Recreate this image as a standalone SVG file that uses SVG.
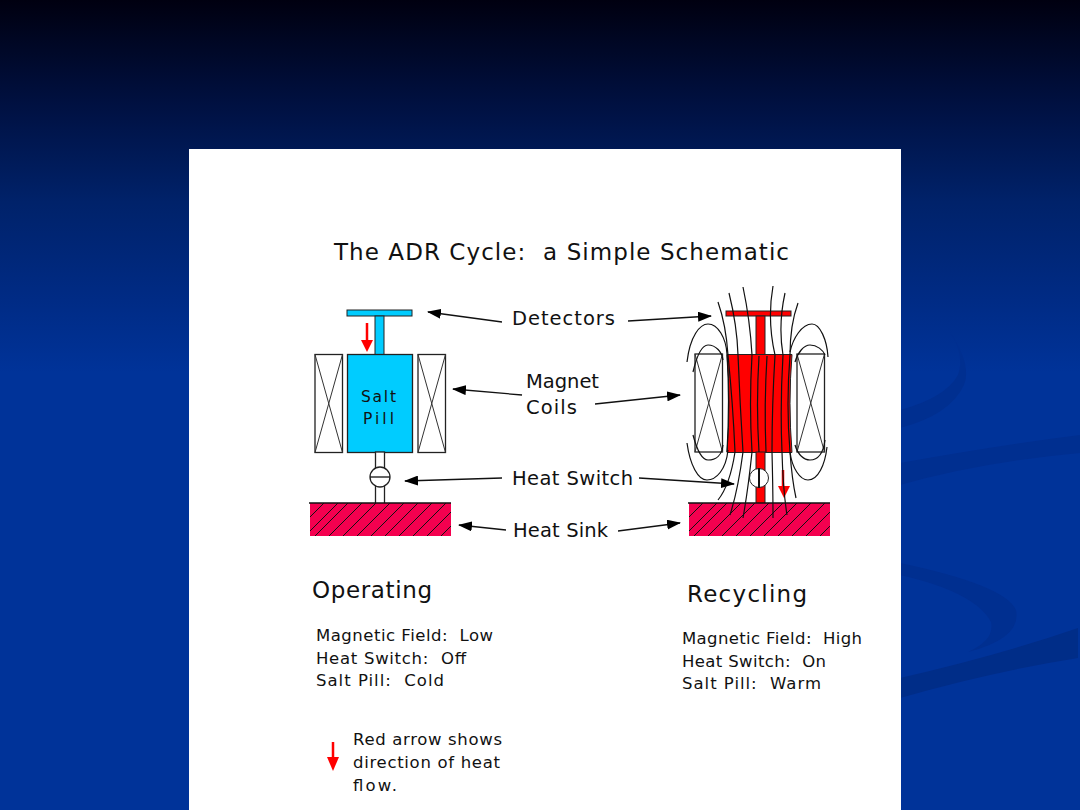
<svg xmlns="http://www.w3.org/2000/svg" width="1080" height="810" viewBox="0 0 1080 810">
<style>
text{font-family:"DejaVu Sans","Liberation Sans",sans-serif;fill:#111;white-space:pre}
.t14{font-size:16.500px}
.t16{font-size:19.500px}
.t18{font-size:23px}
.t13{font-size:15.500px}
.l{fill:none;stroke:#111;stroke-width:1.200}
.ln{stroke:#111;stroke-width:1.300;fill:none}
.box{fill:#fff;stroke:#222;stroke-width:1.300}
.x{stroke:#333;stroke-width:1;fill:none}
.sink{fill:#f4004f;stroke:none}
.h{stroke:#111;stroke-width:1;fill:none}
</style>
<defs>
<linearGradient id="bg" x1="0" y1="0" x2="0" y2="1">
<stop offset="0" stop-color="#000010"/>
<stop offset=".125" stop-color="#001040"/>
<stop offset=".25" stop-color="#00226a"/>
<stop offset=".37" stop-color="#002b85"/>
<stop offset=".46" stop-color="#003399"/>
<stop offset="1" stop-color="#003399"/>
</linearGradient>
<marker id="ah" markerWidth="14" markerHeight="10" refX="13" refY="5" orient="auto" markerUnits="userSpaceOnUse"><path d="M0 0L14 5L0 10Z" fill="#000"/></marker>
</defs>
<rect width="1080" height="810" fill="url(#bg)"/>
<!-- background swooshes on the right margin -->
<g fill="#002f90">
<path d="M950 332Q972 365 964 385Q950 415 900 428L900 410Q945 398 958 375Q965 355 950 332Z"/>
<path d="M900 463Q1000 445 1080 435L1080 453Q980 462 900 485Z"/>
<path d="M900 563Q1005 585 1016 610Q1022 638 968 652Q995 640 991 622Q975 592 900 575Z"/>
<path d="M900 678Q1000 655 1078 628L1078 658Q990 672 900 698Z" fill="#002d88"/>
</g>
<rect x="189" y="149" width="712" height="661" fill="#fff"/>
<text class="t18" x="334" y="260" textLength="455">The ADR Cycle:  a Simple Schematic</text>

<g id="operating-stage">
<rect x="347" y="310" width="65" height="6" fill="#00ccff" stroke="#222"/>
<rect x="375" y="316" width="9" height="40" fill="#00ccff" stroke="#222"/>
<rect x="347.500" y="354.500" width="65" height="98" fill="#00ccff" stroke="#222" stroke-width="1.300"/>
<text class="t13" x="361" y="402" textLength="35">Salt</text>
<text class="t13" x="363" y="424" textLength="31">Pill</text>
<rect class="box" x="315" y="354.500" width="27.500" height="98"/>
<path class="x" d="M315 354.500L342.500 452.500M342.500 354.500L315 452.500"/>
<rect class="box" x="418" y="354.500" width="27.500" height="98"/>
<path class="x" d="M418 354.500L445.500 452.500M445.500 354.500L418 452.500"/>
<rect class="box" x="375.500" y="452" width="9" height="52"/>
<circle class="box" cx="380" cy="477" r="10"/>
<path class="ln" d="M370 477H390"/>
<path d="M367 323V345" stroke="#f00" stroke-width="2.500"/>
<path d="M361 340H373L367 352Z" fill="#f00"/>
<rect class="sink" x="310" y="503" width="141" height="33"/>
<path class="h" d="M310 517L324 503M310 531L338 503M315 536L348 503M329 536L362 503M343 536L376 503M357 536L390 503M371 536L404 503M385 536L418 503M399 536L432 503M413 536L446 503M427 536L451 512M441 536L451 526"/>
<path class="ln" d="M309 503H451"/>
</g>

<g id="recycling-stage">
<rect x="726" y="311" width="65" height="5" fill="#f00" stroke="#222"/>
<rect x="756" y="316" width="9" height="40" fill="#f00" stroke="#222"/>
<path d="M727 354.500H792Q788 403 792 452.500H727Q731 403 727 354.500Z" fill="#f00" stroke="#222"/>
<rect class="box" x="695" y="354" width="27.500" height="98"/>
<path class="x" d="M695 354L722.500 452M722.500 354L695 452"/>
<rect class="box" x="797" y="354" width="27.500" height="98"/>
<path class="x" d="M797 354L824.500 452M824.500 354L797 452"/>
<rect x="756" y="452" width="9" height="52" fill="#f00" stroke="#222"/>
<circle cx="759" cy="478" r="9.500" fill="#fff" stroke="#222"/>
<path d="M759 468V488" stroke="#111" stroke-width="2"/>
<path d="M783 470V490" stroke="#f00" stroke-width="2.500"/>
<path d="M778 486H790L784 498Z" fill="#f00"/>
<rect class="sink" x="689" y="503" width="141" height="33"/>
<path class="h" d="M689 517L703 503M689 531L717 503M694 536L727 503M708 536L741 503M722 536L755 503M736 536L769 503M750 536L783 503M764 536L797 503M778 536L811 503M792 536L825 503M806 536L830 512M820 536L830 526"/>
<path class="ln" d="M688 503H830"/>
<!-- field lines through the pill -->
<g class="l">
<path d="M718 302Q726 325 728 355Q733 405 735 452Q730 485 718 500"/>
<path d="M729 293Q737 325 738 355Q740 405 743 452Q738 490 730 515"/>
<path d="M743 287Q750 320 752 355Q749 405 752 452Q748 490 743 518"/>
<path d="M759 356Q756 405 759 452"/>
<path d="M767 356Q764 405 766 452"/>
<path d="M773 286Q767 320 775 355Q772 405 772 452Q773 490 773 518"/>
<path d="M785 293Q778 325 783 355Q780 405 782 452Q783 490 787 515"/>
<path d="M798 303Q790 325 790 355Q786 405 790 452Q792 480 796 498"/>
<path d="M727 354Q730 400 727 452"/>
<path d="M687 362C690 336 700 324 708 324C718 324 726 338 727 354"/>
<path d="M693 372C697 355 702 345 708 345C716 345 722 352 723 360"/>
<path d="M687 443C690 465 698 480 707 480C716 480 726 470 728 450"/>
<path d="M693 435C697 450 702 460 708 460C716 460 722 455 723 445"/>
<path d="M790 352C793 338 802 324 812 324C820 324 827 340 828 357"/>
<path d="M795 362C798 352 804 345 810 345C817 345 823 350 825 355"/>
<path d="M790 452C792 468 800 480 808 480C818 480 825 465 827 447"/>
<path d="M795 445C798 455 804 460 810 460C817 460 823 455 825 440"/>
</g>
</g>

<g id="connectors">
<path class="ln" marker-end="url(#ah)" d="M502 322L428 312"/>
<path class="ln" marker-end="url(#ah)" d="M628 321L711 316"/>
<path class="ln" marker-end="url(#ah)" d="M522 395L453 389"/>
<path class="ln" marker-end="url(#ah)" d="M595 404L680 395"/>
<path class="ln" marker-end="url(#ah)" d="M502 478L405 481"/>
<path class="ln" marker-end="url(#ah)" d="M639 478L734 484"/>
<path class="ln" marker-end="url(#ah)" d="M506 530L459 525"/>
<path class="ln" marker-end="url(#ah)" d="M618 531L680 523"/>
</g>

<g id="labels">
<text class="t16" x="512" y="325" textLength="103">Detectors</text>
<text class="t16" x="526" y="388" textLength="73">Magnet</text>
<text class="t16" x="526" y="414" textLength="51">Coils</text>
<text class="t16" x="512" y="485" textLength="121">Heat Switch</text>
<text class="t16" x="513" y="537" textLength="95">Heat Sink</text>
</g>

<g id="operating-text">
<text class="t18" x="312" y="598" textLength="120">Operating</text>
<text class="t14" x="316" y="641" textLength="177">Magnetic Field:  Low</text>
<text class="t14" x="316" y="664" textLength="150">Heat Switch:  Off</text>
<text class="t14" x="316" y="686" textLength="128">Salt Pill:  Cold</text>
</g>
<g id="recycling-text">
<text class="t18" x="687" y="602" textLength="120">Recycling</text>
<text class="t14" x="682" y="644" textLength="180">Magnetic Field:  High</text>
<text class="t14" x="682" y="667" textLength="144">Heat Switch:  On</text>
<text class="t14" x="682" y="689" textLength="139">Salt Pill:  Warm</text>
</g>
<g id="legend">
<path d="M333 742V760" stroke="#f00" stroke-width="2.500"/>
<path d="M327 757H339L333 771Z" fill="#f00"/>
<text class="t14" x="353" y="745" textLength="149">Red arrow shows</text>
<text class="t14" x="353" y="768" textLength="147">direction of heat</text>
<text class="t14" x="353" y="791" textLength="44">flow.</text>
</g>
</svg>
